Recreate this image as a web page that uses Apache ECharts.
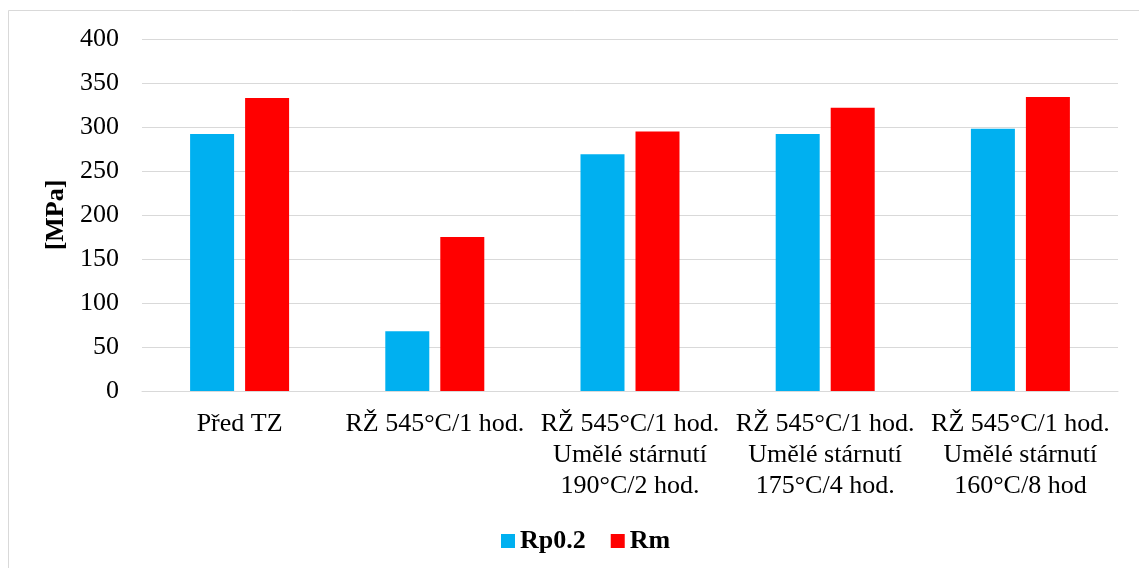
<!DOCTYPE html>
<html>
<head>
<meta charset="utf-8">
<script src="https://cdn.jsdelivr.net/npm/echarts@6/dist/echarts.min.js"></script>
<style>
html,body{margin:0;padding:0;background:#fff;}
#chart{width:1139px;height:568px;}
</style>
</head>
<body>
<div id="chart"></div>
<script>
const categories = [
  'Před TZ',
  'RŽ 545°C/1 hod.',
  'RŽ 545°C/1 hod.\nUmělé stárnutí\n190°C/2 hod.',
  'RŽ 545°C/1 hod.\nUmělé stárnutí\n175°C/4 hod.',
  'RŽ 545°C/1 hod.\nUmělé stárnutí\n160°C/8 hod'
];
const seriesNames = ['Rp0.2', 'Rm'];
const rp02 = [292, 68, 269, 292, 298];
const rm = [333, 175, 295, 322, 334];
const yTicks = [0, 50, 100, 150, 200, 250, 300, 350, 400];

const font = '"Liberation Serif", "Times New Roman", serif';
const chart = echarts.init(document.getElementById('chart'));
chart.setOption({
  animation: false,
  backgroundColor: '#fff',
  graphic: [{
    type: 'rect',
    shape: { x: 8.5, y: 10.5, width: 1300, height: 700 },
    style: { fill: 'none', stroke: '#d9d9d9', lineWidth: 1 },
    silent: true
  }],
  grid: { left: 142, right: 21, top: 39, bottom: 177, containLabel: false },
  legend: {
    data: seriesNames,
    left: 496,
    top: 523,
    icon: 'rect',
    itemWidth: 14,
    itemHeight: 14,
    itemGap: 25,
    textStyle: { fontFamily: font, fontSize: 26, fontWeight: 'bold', color: '#000', lineHeight: 26 }
  },
  xAxis: {
    type: 'category',
    data: categories,
    axisLine: { lineStyle: { color: '#d9d9d9', width: 1 } },
    axisTick: { show: false },
    axisLabel: { fontFamily: font, fontSize: 26, color: '#000', lineHeight: 31, margin: 18, interval: 0 }
  },
  yAxis: {
    type: 'value',
    min: yTicks[0],
    max: yTicks[yTicks.length - 1],
    interval: 50,
    name: '[MPa]',
    nameLocation: 'middle',
    nameGap: 69,
    nameTextStyle: { fontFamily: font, fontSize: 26, fontWeight: 'bold', color: '#000' },
    axisLine: { show: false },
    axisTick: { show: false },
    splitLine: { lineStyle: { color: '#d9d9d9', width: 1 } },
    axisLabel: { fontFamily: font, fontSize: 26, color: '#000', margin: 23 }
  },
  series: [
    { name: seriesNames[0], type: 'bar', data: rp02, barWidth: 44, barGap: '25%', itemStyle: { color: '#00B0F0' } },
    { name: seriesNames[1], type: 'bar', data: rm, barWidth: 44, barGap: '25%', itemStyle: { color: '#FF0000' } }
  ]
});
</script>
</body>
</html>
